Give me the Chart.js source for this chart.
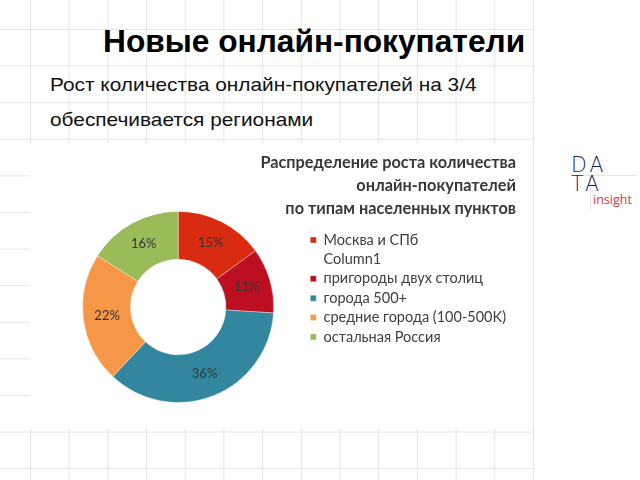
<!DOCTYPE html>
<html>
<head>
<meta charset="utf-8">
<script src="https://cdn.jsdelivr.net/npm/chart.js@4.4.1/dist/chart.umd.min.js"></script>
<style>
  body { margin: 0; width: 640px; height: 480px; background: #fff; position: relative; overflow: hidden; font-family: "Liberation Sans", Arial, sans-serif; }
  .grid {
    position: absolute; left: 0; top: 0; width: 533px; height: 480px;
    background-image:
      linear-gradient(to right, #e1e5ec 1px, transparent 1px),
      linear-gradient(to bottom, #e1e5ec 1px, transparent 1px);
    background-size: 38.7px 36.6px;
    background-position: -8.7px -7.6px;
    border-right: 1px solid #e1e5ec;
  }
  h1 { position: absolute; left: 103px; top: 23px; margin: 0; font-size: 31.7px; font-weight: bold; color: #000; white-space: nowrap; line-height: 37px; }
  .sub { position: absolute; left: 50px; margin: 0; font-size: 19px; color: #111; white-space: nowrap; transform: scaleX(1.097); transform-origin: left top; }
  #box { position: absolute; left: 30px; top: 143px; width: 503px; height: 285px; background: #fff; }
  .logo { position: absolute; font-family: "DejaVu Sans", sans-serif; font-weight: 200; color: #1b1f5e; font-size: 20.5px; letter-spacing: 3px; line-height: 18px; }
  .ins { position: absolute; left: 593px; top: 191px; font-family: "Open Sans", sans-serif; font-size: 12.5px; color: #e0343c; }
  .hl { position: absolute; left: 572px; top: 175px; width: 65px; height: 1px; background: #e4e6ea; }
  .vl { position: absolute; left: 590px; top: 175px; width: 1px; height: 35px; background: #e4e6ea; }
</style>
</head>
<body>
<div class="grid"></div>
<h1>Новые онлайн-покупатели</h1>
<p class="sub" style="top:74px">Рост количества онлайн-покупателей на 3/4</p>
<p class="sub" style="top:109px">обеспечивается регионами</p>
<div id="box"><canvas id="myChart" width="503" height="285"></canvas></div>
<div class="hl"></div>
<div class="vl"></div>
<div class="logo" style="left:571px; top:156px">DA</div>
<div class="logo" style="left:571px; top:175px">TA</div>
<div class="ins">insight</div>
<script>
const categories = [
  "Москва и СПб",
  "Column1",
  "пригороды двух столиц",
  "города 500+",
  "средние города (100-500K)",
  "остальная Россия",
];
const shares = [15, 0, 11, 36, 22, 16];
const colors = ["#d92b10", "transparent", "#bc1020", "#32879f", "#f69647", "#9bbb59"];
const chartTitle = ["Распределение роста количества", "онлайн-покупателей", "по типам населенных пунктов"];

// percent labels in the middle of each slice
const pctLabels = {
  id: "pctLabels",
  afterDatasetsDraw(chart) {
    const ctx = chart.ctx;
    const meta = chart.getDatasetMeta(0);
    ctx.save();
    ctx.font = "13px Lato";
    ctx.fillStyle = "#333";
    ctx.textAlign = "center";
    ctx.textBaseline = "middle";
    meta.data.forEach((arc, i) => {
      const v = shares[i];
      if (!v) return;
      const p = arc.tooltipPosition();
      ctx.fillText(v + "%", p.x, p.y);
    });
    ctx.restore();
  },
};

new Chart(document.getElementById("myChart"), {
  type: "doughnut",
  data: {
    labels: categories,
    datasets: [
      {
        data: shares,
        backgroundColor: colors,
        borderColor: colors.map((c) => (c === "transparent" ? c : "rgba(255,255,255,0.35)")),
        borderWidth: 1,
      },
    ],
  },
  options: {
    responsive: false,
    animation: false,
    cutout: "50%",
    layout: {
      padding: { left: 21, right: 17, top: 0, bottom: 25 },
    },
    plugins: {
      tooltip: { enabled: false },
      title: {
        display: true,
        text: chartTitle,
        align: "end",
        color: "#383838",
        font: { family: "Lato", size: 16.3, weight: "bold", lineHeight: 1.41 },
        padding: { top: 8.5, bottom: -9.5 },
      },
      legend: {
        position: "right",
        align: "start",
        // empty title only pushes the items down below the chart title
        title: {
          display: true,
          text: "",
          font: { size: 10, lineHeight: 1 },
          padding: { top: 0, bottom: 74.8 },
        },
        labels: {
          color: "#404040",
          font: { family: "Lato", size: 14.5 },
          boxWidth: 6,
          boxHeight: 6,
          padding: 4.9,
        },
      },
    },
  },
  plugins: [pctLabels],
});
</script>
</body>
</html>
